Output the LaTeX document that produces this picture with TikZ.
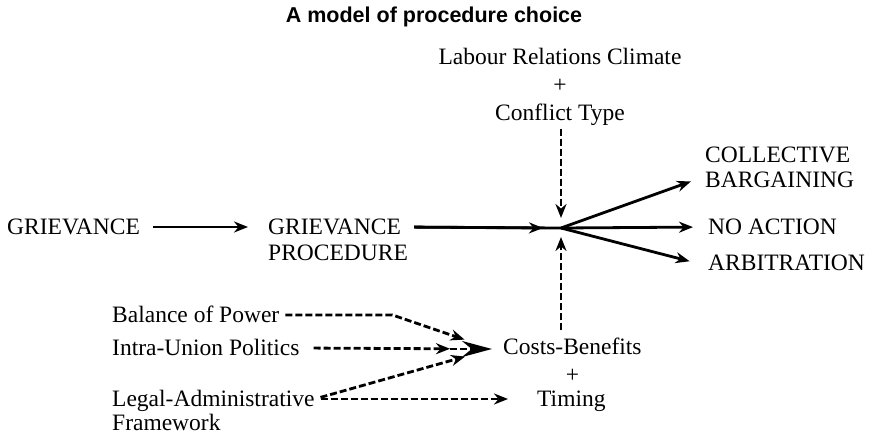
\documentclass[tikz,border=0pt]{standalone}
\usepackage{fontspec}
\setmainfont{Liberation Serif}
\newfontfamily\headfont{Liberation Sans}
\usepackage{tikz}
\usetikzlibrary{arrows}
\usetikzlibrary{arrows.meta}
\usetikzlibrary{positioning}
\tikzset{
     txt/.style={
           inner sep=0pt,
           text height=15pt,
           text depth=0pt,
           font=\fontsize{23.5}{28}\selectfont,
           },
     headline/.style={
           inner sep=0pt,
           font=\headfont\bfseries\fontsize{21.5}{25}\selectfont,
           },
     solidarrow/.style={
           -{Stealth[length=14pt,width=11pt]},
           line width=2.8pt,
           },
     dasharrow/.style={
           -{Stealth[length=14pt,width=11pt]},
           line width=2.8pt,
           dash pattern=on 7pt off 3pt,
           },
}

\begin{document}
\begin{tikzpicture}[x=1pt,y=1pt]
	\useasboundingbox (0,0) rectangle (869,-436);
	\node[headline] (title) at (434,-17) {A model of procedure choice};

	% top factors
	\node[txt] (climate) at (560,-57) {Labour Relations Climate};
	\node[txt, below=13pt of climate] (plusa) {+};
	\node[txt, below=12pt of plusa] (conflict) {Conflict Type};

	% main line
	\node[txt, anchor=west] (grv) at (7,-227) {GRIEVANCE};
	\node[txt, anchor=west] (gp) at (268,-227) {GRIEVANCE};
	\node[txt, below=11pt of gp.south west, anchor=north west] (gpb) {PROCEDURE};
	\coordinate (hub) at (561,-228);
	\coordinate[left=18pt of hub] (hubin);

	% outcomes
	\node[txt, anchor=west] (coll) at (705,-155) {COLLECTIVE};
	\node[txt, below=10pt of coll.south west, anchor=north west] (barg) {BARGAINING};
	\node[txt, anchor=west] (noact) at (708,-227) {NO ACTION};
	\node[txt, anchor=west] (arb) at (708,-263) {ARBITRATION};

	% bottom factors
	\node[txt, anchor=west] (bal) at (112,-315) {Balance of Power};
	\node[txt, anchor=west] (intra) at (112,-348) {Intra-Union Politics};
	\node[txt, anchor=west] (legal) at (112,-399) {Legal-Administrative};
	\node[txt, below=9pt of legal.south west, anchor=north west] (frame) {Framework};
	\node[txt, anchor=west] (cost) at (503,-347) {Costs-Benefits};
	\node[txt, below=13pt of cost] (plusb) {+};
	\node[txt, anchor=west] (tim) at (537,-399) {Timing};
	\coordinate (mix) at (492,-349);
	\coordinate[left=42pt of mix] (mixin);

	\draw[solidarrow, shorten <=13pt, shorten >=20pt] (grv.east) -- (gp.west);
	\draw[line width=2.8pt, shorten <=13pt] (gp.east) -- (hub);
	\draw[solidarrow, shorten <=13pt] (gp.east) -- (hubin);
	\draw[solidarrow, shorten >=15pt] (hub) -- ([yshift=4pt]barg.west);
	\draw[solidarrow, shorten >=15pt] (hub) -- (noact.west);
	\draw[solidarrow, shorten >=19pt] (hub) -- ([yshift=-3pt]arb.west);
	\draw[dasharrow, shorten <=8pt, shorten >=10pt] (hub |- conflict.south) -- (hub);
	\draw[dasharrow, shorten <=9pt, shorten >=9pt] (hub |- cost.north) -- (hub);

	\draw[dasharrow, shorten <=6pt, shorten >=29pt] (bal.east) -- ++(113,0) -- (mix);
	\draw[dasharrow, shorten <=14pt, shorten >=42pt] (intra.east) -- (mix);
	\draw[dasharrow, -{Stealth[length=30pt,width=16pt]}] (mixin) -- (mix);
	\draw[dasharrow, shorten <=6pt, shorten >=28pt] (legal.east) -- (mix);
	\draw[dasharrow, shorten <=6pt, shorten >=29pt] (legal.east) -- (tim.west);
\end{tikzpicture}
\end{document}
